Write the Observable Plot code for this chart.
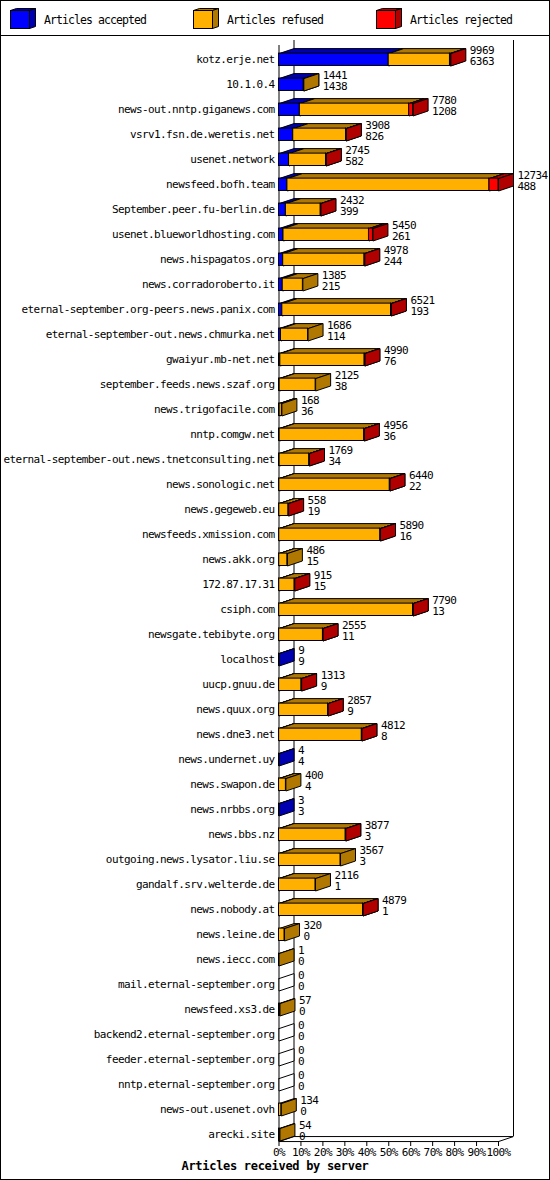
<!DOCTYPE html>
<html><head><meta charset="utf-8">
<script src="https://cdn.jsdelivr.net/npm/d3@7"></script>
<script src="https://cdn.jsdelivr.net/npm/@observablehq/plot@0.6"></script>
<style>
html,body{margin:0;padding:0;background:#fff;}
#wrap{position:relative;width:550px;height:1180px;box-sizing:border-box;border:1px solid #000;background:#fff;overflow:hidden;font-family:'DejaVu Sans Mono',monospace;color:#000;}
#legend{position:relative;height:34px;border-bottom:1px solid #000;}
.item{position:absolute;top:0;height:34px;width:180px;}
.item svg{position:absolute;left:0;top:6px;}
.item span{position:absolute;left:34px;top:0;line-height:38px;font-size:11.5px;letter-spacing:-0.92px;white-space:pre;}
#chart svg{display:block;}
#title{position:absolute;left:0;width:548px;top:1157px;height:16px;line-height:16px;text-align:center;font-weight:bold;font-size:12px;letter-spacing:-0.3px;}
</style>
</head><body>
<div id="wrap">
  <div id="legend"></div>
  <div id="chart"></div>
  <div id="title"></div>
</div>
<script>
// ---- data ----
const servers = [
  "kotz.erje.net","10.1.0.4","news-out.nntp.giganews.com","vsrv1.fsn.de.weretis.net","usenet.network",
  "newsfeed.bofh.team","September.peer.fu-berlin.de","usenet.blueworldhosting.com","news.hispagatos.org","news.corradoroberto.it",
  "eternal-september.org-peers.news.panix.com","eternal-september-out.news.chmurka.net","gwaiyur.mb-net.net","september.feeds.news.szaf.org","news.trigofacile.com",
  "nntp.comgw.net","eternal-september-out.news.tnetconsulting.net","news.sonologic.net","news.gegeweb.eu","newsfeeds.xmission.com",
  "news.akk.org","172.87.17.31","csiph.com","newsgate.tebibyte.org","localhost",
  "uucp.gnuu.de","news.quux.org","news.dne3.net","news.undernet.uy","news.swapon.de",
  "news.nrbbs.org","news.bbs.nz","outgoing.news.lysator.liu.se","gandalf.srv.welterde.de","news.nobody.at",
  "news.leine.de","news.iecc.com","mail.eternal-september.org","newsfeed.xs3.de","backend2.eternal-september.org",
  "feeder.eternal-september.org","nntp.eternal-september.org","news-out.usenet.ovh","arecki.site"
];
const totals = [
  9969,1441,7780,3908,2745,
  12734,2432,5450,4978,1385,
  6521,1686,4990,2125,168,
  4956,1769,6440,558,5890,
  486,915,7790,2555,9,
  1313,2857,4812,4,400,
  3,3877,3567,2116,4879,
  320,1,0,57,0,
  0,0,134,54
];
const accepted = [
  6363,1438,1208,826,582,
  488,399,261,244,215,
  193,114,76,38,36,
  36,34,22,19,16,
  15,15,13,11,9,
  9,9,8,4,4,
  3,3,3,1,1,
  0,0,0,0,0,
  0,0,0,0
];
const refused = [
  3556,3,6342,3062,2148,
  11721,2023,4959,4719,1170,
  6308,1572,4894,2087,132,
  4910,1725,6408,534,5864,
  471,895,7767,2539,0,
  1299,2843,4799,0,396,
  0,3869,3564,2115,4873,
  320,1,0,57,0,
  0,0,134,54
];
const rejected = [
  50,0,230,20,15,
  525,10,230,15,0,
  20,0,20,0,0,
  10,10,10,5,10,
  0,5,10,5,0,
  5,5,5,0,0,
  0,5,0,0,5,
  0,0,0,0,0,
  0,0,0,0
];
const seriesNames = ["Articles accepted","Articles refused","Articles rejected"];
const frontColors = ["#0000ff","#ffb000","#ff0000"];
const sideColors  = ["#0000b0","#b07800","#b00000"];
const xTicks = [0,10,20,30,40,50,60,70,80,90,100];
const axisTitle = "Articles received by server";

// ---- legend ----
const legend = document.getElementById("legend");
const legendLeft = [9,192,375];
seriesNames.forEach((name,k)=>{
  const it = document.createElement("div");
  it.className = "item";
  it.style.left = legendLeft[k] + "px";
  it.innerHTML =
    `<svg width="30" height="26" viewBox="0 0 30 26">
      <polygon points="0.5,3.5 19.5,3.5 25.5,1.5 6.5,1.5" fill="${sideColors[k]}" stroke="#000" stroke-width="1"/>
      <polygon points="19.5,3.5 25.5,1.5 25.5,19.5 19.5,21.5" fill="${sideColors[k]}" stroke="#000" stroke-width="1"/>
      <rect x="0.5" y="3.5" width="19" height="18" fill="${frontColors[k]}" stroke="#000" stroke-width="1"/>
    </svg><span>${name}</span>`;
  legend.appendChild(it);
});
document.getElementById("title").textContent = axisTitle;

// ---- geometry helpers (pixel depth converted to data units) ----
const PX_PER_PCT = 219.5 / 100;
const PX_PER_ROW = 25;
const D = 15 / PX_PER_PCT;      // 3D depth in x
const E = 5 / PX_PER_ROW;       // 3D depth in y (rows)
const H = 6.2 / PX_PER_ROW;     // half bar height
const FLOOR = 43.27;
const maxTotal = d3.max(totals);
const pct = v => v / maxTotal * 100;

const rows = servers.map((name,i)=>({i, name, total: totals[i], acc: accepted[i]}));
const series = [accepted, refused, rejected];

const segs = [[],[],[]];
rows.forEach(r=>{
  let cum = 0;
  series.forEach((arr,k)=>{
    const v = arr[r.i];
    if (v > 0) segs[k].push({i:r.i, x1:pct(cum), x2:pct(cum+v)});
    cum += v;
  });
});

function topPoly(s, id){
  const y1 = s.i - H;
  return [[s.x1,y1],[s.x2,y1],[s.x2+D,y1-E],[s.x1+D,y1-E],[s.x1,y1]].map(([x,y])=>({x,y,id}));
}
function sidePoly(x2, i, id){
  const y1 = i - H, y2 = i + H;
  return [[x2,y1],[x2+D,y1-E],[x2+D,y2-E],[x2,y2],[x2,y1]].map(([x,y])=>({x,y,id}));
}

const zeroPts = rows.filter(r=>r.total===0).flatMap(r=>sidePoly(0, r.i, "z"+r.i));

const barMarks = [];
segs.forEach((list,k)=>{
  const tops = list.flatMap((s,j)=>topPoly(s, "t"+k+"_"+j));
  const sides = list.flatMap((s,j)=>sidePoly(s.x2, s.i, "s"+k+"_"+j));
  barMarks.push(Plot.line(tops, {x:"x", y:"y", z:"id", fill: sideColors[k], stroke:"#000", strokeWidth:1, strokeLinejoin:"miter"}));
  barMarks.push(Plot.line(sides, {x:"x", y:"y", z:"id", fill: sideColors[k], stroke:"#000", strokeWidth:1, strokeLinejoin:"miter"}));
  barMarks.push(Plot.rect(list, {x1:"x1", x2:"x2", y1:d=>d.i-H, y2:d=>d.i+H, fill: frontColors[k], stroke:"#000", strokeWidth:1}));
});

const chart = Plot.plot({
  width: 548,
  height: 1143,
  marginLeft: 277.5,
  marginRight: 51,
  marginTop: 0,
  marginBottom: 38,
  x: {domain: [0, 100]},
  y: {domain: [0, 43], range: [23.3, 1098.3]},
  style: "font-family:'DejaVu Sans Mono',monospace;font-size:11px;letter-spacing:-0.6px;background:#fff;color:#000;overflow:visible;",
  marks: [
    // walls and floor
    Plot.ruleX([0], {y1: -0.572, y2: FLOOR, stroke:"#000", strokeWidth:1}),
    Plot.ruleX([D], {y1: -0.772, y2: FLOOR - E, stroke:"#000", strokeWidth:1}),
    Plot.ruleX([100 + D], {y1: -0.772, y2: FLOOR - E, stroke:"#000", strokeWidth:1}),
    Plot.ruleY([FLOOR], {x1: 0, x2: 100, stroke:"#000", strokeWidth:1}),
    Plot.ruleY([FLOOR - E], {x1: D, x2: 100 + D, stroke:"#000", strokeWidth:1}),
    Plot.link([0, 100], {x1: d=>d, y1: FLOOR, x2: d=>d + D, y2: FLOOR - E, stroke:"#000", strokeWidth:1}),
    // empty bars
    Plot.line(zeroPts, {x:"x", y:"y", z:"id", fill:"#fff", stroke:"#000", strokeWidth:1}),
    ...barMarks,
    // value labels
    Plot.text(rows, {x: d=>pct(d.total), y:"i", text: d=>String(d.total), dx: 19, dy: -9.7, textAnchor:"start", fill:"#000"}),
    Plot.text(rows, {x: d=>pct(d.total), y:"i", text: d=>String(d.acc), dx: 19, dy: 1.9, textAnchor:"start", fill:"#000"}),
    // axes
    Plot.axisY(d3.range(servers.length), {anchor:"left", tickSize:0, tickPadding:4.5, tickFormat: i=>servers[i], label:null}),
    Plot.axisX(xTicks, {anchor:"bottom", tickSize:5, tickPadding:2, tickFormat: d=>d+"%", label:null})
  ]
});
document.getElementById("chart").appendChild(chart);
</script>
</body></html>
